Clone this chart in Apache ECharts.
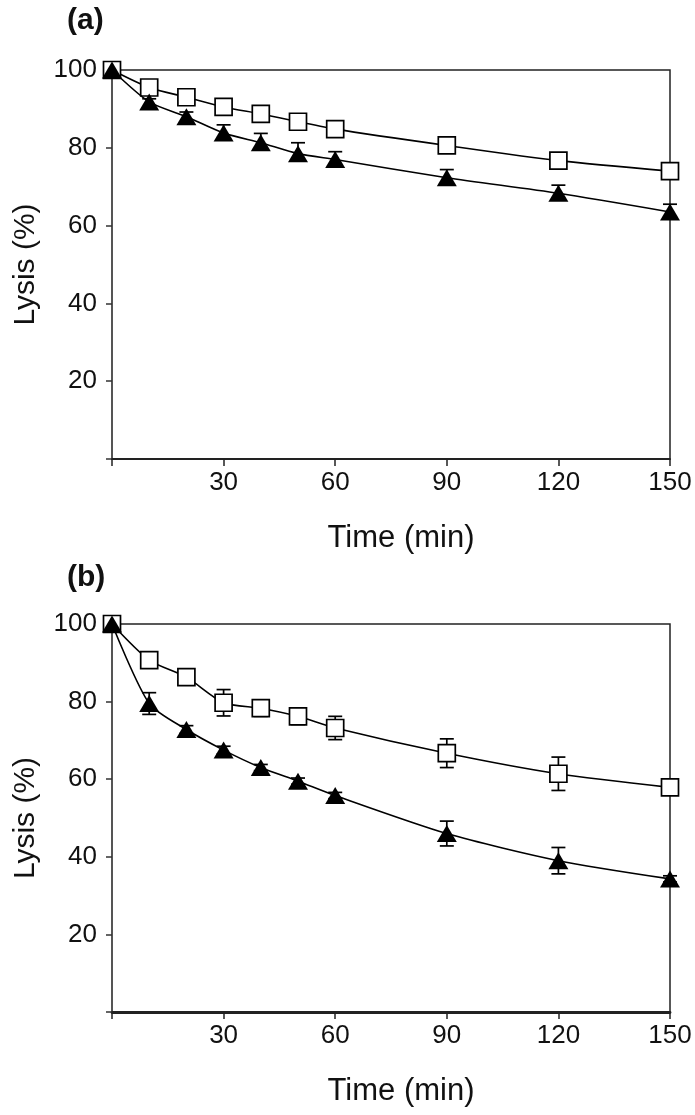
<!DOCTYPE html>
<html>
<head>
<meta charset="utf-8">
<script src="https://cdn.jsdelivr.net/npm/echarts@6/dist/echarts.min.js"></script>
<style>
html,body{margin:0;padding:0;background:#fff;}
#chart{width:695px;height:1115px;}
</style>
</head>
<body>
<div id="chart"></div>
<script>
// ---- data ----
var time = [0, 10, 20, 30, 40, 50, 60, 90, 120, 150];
var xTicks = [0, 30, 60, 90, 120, 150];
var yTicks = [0, 20, 40, 60, 80, 100];

// panel (a)
var aSquare = [100, 95.5, 93, 90.5, 88.7, 86.7, 84.8, 80.6, 76.7, 74];
var aTriangle = [100, 91.8, 88, 83.8, 81.3, 78.5, 77, 72.3, 68.3, 63.5];
var aTriangleErr = [0, 0.8, 1.2, 2.1, 2.4, 2.8, 2.0, 2.1, 2.1, 2.0];

// panel (b)
var bSquare = [100, 90.7, 86.3, 79.7, 78.3, 76.2, 73.2, 66.7, 61.4, 57.9];
var bSquareErr = [0, 0.5, 0.5, 3.4, 2.1, 2.1, 3.0, 3.7, 4.3, 0.5];
var bTriangle = [100, 79.5, 72.8, 67.5, 63, 59.5, 55.8, 46, 39, 34.3];
var bTriangleErr = [0, 2.8, 1.0, 1.0, 0.8, 0.8, 0.8, 3.2, 3.4, 0.8];

// ---- build ----
function pairs(vals) { return time.map(function (t, i) { return [t, vals[i]]; }); }
function errTriples(vals, errs) { return time.map(function (t, i) { return [t, vals[i], errs[i]]; }); }

function errSeries(idx, vals, errs, upOnly) {
  return {
    type: 'custom',
    xAxisIndex: idx, yAxisIndex: idx,
    z: 1,
    clip: false,
    silent: true,
    data: errTriples(vals, errs),
    renderItem: function (params, api) {
      var x = api.value(0), y = api.value(1), e = api.value(2);
      if (!e) return;
      var top = api.coord([x, y + e]);
      var mid = api.coord([x, y]);
      var bot = upOnly ? mid : api.coord([x, y - e]);
      var hw = 7;
      var style = { stroke: '#000', lineWidth: 1.7 };
      var children = [
        { type: 'line', shape: { x1: top[0], y1: top[1], x2: bot[0], y2: bot[1] }, style: style },
        { type: 'line', shape: { x1: top[0] - hw, y1: top[1], x2: top[0] + hw, y2: top[1] }, style: style }
      ];
      if (!upOnly) {
        children.push({ type: 'line', shape: { x1: bot[0] - hw, y1: bot[1], x2: bot[0] + hw, y2: bot[1] }, style: style });
      }
      return { type: 'group', children: children };
    }
  };
}

function squareSeries(idx, vals) {
  return {
    type: 'line', xAxisIndex: idx, yAxisIndex: idx, z: 3,
    data: pairs(vals), smooth: 0.25, clip: false,
    symbol: 'rect', symbolSize: 17, showAllSymbol: true,
    lineStyle: { color: '#000', width: 1.6 },
    itemStyle: { color: '#fff', borderColor: '#000', borderWidth: 1.7 }
  };
}
function triSeries(idx, vals) {
  return {
    type: 'line', xAxisIndex: idx, yAxisIndex: idx, z: 4,
    data: pairs(vals), smooth: 0.25, clip: false,
    symbol: 'triangle', symbolSize: [20, 17], showAllSymbol: true,
    lineStyle: { color: '#000', width: 1.6 },
    itemStyle: { color: '#000', borderColor: '#000', borderWidth: 0 }
  };
}

var labelFont = 'Liberation Sans, Arial, sans-serif';

function xAxis(idx, lw) {
  return {
    type: 'value', gridIndex: idx, min: 0, max: 150, interval: 30,
    name: 'Time (min)', nameLocation: 'middle', nameGap: 64,
    nameTextStyle: { fontFamily: labelFont, fontSize: 31, color: '#111', padding: [0, 0, 0, 20] },
    axisLine: { show: true, onZero: false, lineStyle: { color: '#222', width: lw } },
    axisTick: { show: true, inside: false, length: 7, lineStyle: { color: '#222', width: 1.5 } },
    axisLabel: { fontFamily: labelFont, fontSize: 26, color: '#111', margin: 11,
      formatter: function (v) { return v === 0 ? '' : String(v); } },
    splitLine: { show: false }
  };
}
function yAxis(idx) {
  return {
    type: 'value', gridIndex: idx, min: 0, max: 100, interval: 20,
    name: 'Lysis (%)', nameLocation: 'middle', nameGap: 71,
    nameTextStyle: { fontFamily: labelFont, fontSize: 30, color: '#111' },
    axisLine: { show: true, lineStyle: { color: '#555', width: 1.5 } },
    axisTick: { show: true, inside: false, length: 6, lineStyle: { color: '#333', width: 1.5 } },
    axisLabel: { fontFamily: labelFont, fontSize: 26, color: '#111', margin: 15,
      formatter: function (v) { return v === 0 ? '' : String(v); } },
    splitLine: { show: false }
  };
}

var chart = echarts.init(document.getElementById('chart'), null, { renderer: 'canvas' });
chart.setOption({
  backgroundColor: '#fff',
  animation: false,
  title: [
    { text: '(a)', left: 67, top: 6, padding: 0, textStyle: { fontFamily: labelFont, fontSize: 30, fontWeight: 'bold', color: '#111' } },
    { text: '(b)', left: 67, top: 563, padding: 0, textStyle: { fontFamily: labelFont, fontSize: 30, fontWeight: 'bold', color: '#111' } }
  ],
  grid: [
    { left: 112, top: 70, width: 558, height: 389, show: true, borderColor: '#222', borderWidth: 1.5, backgroundColor: 'transparent' },
    { left: 112, top: 624, width: 558, height: 388, show: true, borderColor: '#222', borderWidth: 1.5, backgroundColor: 'transparent' }
  ],
  xAxis: [xAxis(0, 1.8), xAxis(1, 2.8)],
  yAxis: [yAxis(0), yAxis(1)],
  series: [
    errSeries(0, aTriangle, aTriangleErr, true),
    squareSeries(0, aSquare),
    triSeries(0, aTriangle),
    errSeries(1, bSquare, bSquareErr, false),
    errSeries(1, bTriangle, bTriangleErr, false),
    squareSeries(1, bSquare),
    triSeries(1, bTriangle)
  ]
});
</script>
</body>
</html>
